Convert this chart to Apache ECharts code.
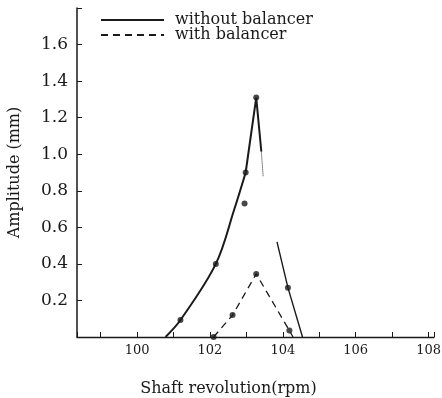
<!DOCTYPE html>
<html>
<head>
<meta charset="UTF-8">
<script src="https://cdn.jsdelivr.net/npm/echarts@6/dist/echarts.min.js"></script>
<style>
  body { margin: 0; background: #fff; }
  #chart { width: 442px; height: 398px; }
</style>
</head>
<body>
<div id="chart"></div>
<script>
// shaft revolution (rpm) vs amplitude (mm)
const withoutRise = [[100.78, 0], [101.19, 0.093], [102.16, 0.4], [102.67, 0.7], [102.98, 0.9]];
const withoutPeak = [[102.98, 0.9], [103.27, 1.31], [103.41, 1.015]];
const withoutFaint = [[103.41, 1.015], [103.46, 0.88]];
const withoutFall = [[103.84, 0.52], [104.14, 0.27], [104.54, 0]];
const withBalancer = [[102.1, 0], [102.62, 0.12], [103.27, 0.345], [104.18, 0.035], [104.28, 0]];
const pointsWithout = [[101.19, 0.093], [102.16, 0.4], [102.98, 0.9], [102.95, 0.73], [103.27, 1.31], [104.14, 0.27]];
const pointsWith = [[102.1, 0], [102.62, 0.12], [103.27, 0.345], [104.18, 0.035]];
const legendNames = ['without balancer', 'with balancer'];

const font = 'DejaVu Serif';
const ink = '#1a1a1a';
const chart = echarts.init(document.getElementById('chart'));

const line = (name, data, width, extra) => Object.assign({
  name: name, type: 'line', data: data, symbol: 'none',
  lineStyle: { color: ink, width: width, type: 'solid' }, itemStyle: { color: ink }
}, extra || {});

chart.setOption({
  animation: false,
  grid: { left: 77, right: 8, top: 8, bottom: 61, containLabel: false, outerBoundsMode: 'none' },
  legend: {
    data: legendNames, orient: 'vertical', left: 95, top: 7,
    itemWidth: 63, itemHeight: 14, itemGap: -1,
    itemStyle: { opacity: 0 },
    textStyle: { fontFamily: font, fontSize: 16, color: ink, padding: [0, 0, 0, 6] }
  },
  xAxis: {
    type: 'value', min: 98.35, max: 108.15, splitNumber: 10,
    name: 'Shaft revolution(rpm)', nameLocation: 'middle', nameGap: 44,
    nameTextStyle: { fontFamily: font, fontSize: 16, color: ink, padding: [0, 54, 0, 0] },
    axisLine: { lineStyle: { color: ink, width: 1.3 } },
    axisTick: { inside: true, length: 5, lineStyle: { color: ink } },
    splitLine: { show: false },
    axisLabel: {
      fontFamily: font, fontSize: 13, color: ink, margin: 7,
      formatter: v => (Number.isInteger(v) && v % 2 === 0) ? String(v) : ''
    }
  },
  yAxis: {
    type: 'value', min: 0, max: 1.8, interval: 0.2,
    name: 'Amplitude (mm)', nameLocation: 'middle', nameGap: 54,
    nameTextStyle: { fontFamily: font, fontSize: 16, color: ink },
    axisLine: { show: true, lineStyle: { color: ink, width: 1.5 } },
    axisTick: { show: true, inside: true, length: 5, lineStyle: { color: ink } },
    splitLine: { show: false },
    axisLabel: {
      fontFamily: font, fontSize: 17, color: ink, margin: 9,
      formatter: v => (v > 0.05 && v < 1.7) ? v.toFixed(1) : ''
    }
  },
  series: [
    line('without balancer', withoutRise, 2, { smooth: 0.35 }),
    line('peak', withoutPeak, 2),
    line('faint', withoutFaint, 1, { lineStyle: { color: ink, width: 1, type: 'dotted' } }),
    line('fall', withoutFall, 1.4),
    line('with balancer', withBalancer, 1.3, { lineStyle: { color: ink, width: 1.3, type: [7, 5] } }),
    {
      name: 'measured', type: 'scatter', symbolSize: 6,
      data: pointsWithout.concat(pointsWith), itemStyle: { color: ink }
    }
  ]
});
</script>
</body>
</html>
